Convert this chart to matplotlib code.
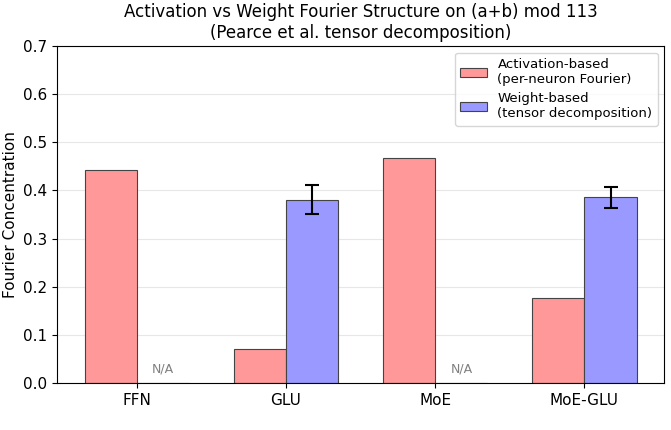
import numpy as np
import matplotlib.pyplot as plt

models = ['FFN', 'GLU', 'MoE', 'MoE-GLU']
act_vals = [0.443, 0.071, 0.468, 0.176]
weight_vals = [0.0, 0.381, 0.0, 0.386]
weight_err = [0.0, 0.030, 0.0, 0.022]
weight_na = [True, False, True, False]

x = np.arange(len(models))
w = 0.35

fig, ax = plt.subplots(figsize=(6.71, 4.30), dpi=100)
fig.subplots_adjust(left=0.085, right=0.99, top=0.893, bottom=0.109)

ax.bar(x - w/2, act_vals, w, color='#ff9999', edgecolor='#444444', linewidth=0.8,
       label='Activation-based\n(per-neuron Fourier)')
errs = [e if e > 0 else np.nan for e in weight_err]
ax.bar(x + w/2, weight_vals, w, color='#9999ff', edgecolor='#444444', linewidth=0.8,
       yerr=errs, capsize=5, error_kw={'elinewidth': 1.5, 'capthick': 1.5},
       label='Weight-based\n(tensor decomposition)')

for i, na in enumerate(weight_na):
    if na:
        ax.text(x[i] + w/2, 0.015, 'N/A', ha='center', va='bottom', fontsize=9, color='gray')

ax.set_xticks(x)
ax.set_xticklabels(models, fontsize=11)
ax.tick_params(axis='y', labelsize=11)
ax.set_ylim(0, 0.7)
ax.set_ylabel('Fourier Concentration', fontsize=11)
ax.set_title('Activation vs Weight Fourier Structure on (a+b) mod 113\n(Pearce et al. tensor decomposition)',
             fontsize=12)
ax.yaxis.grid(True, alpha=0.3)
ax.set_axisbelow(True)
ax.legend(loc='upper right', fontsize=9.5)

fig.savefig('out.png')
